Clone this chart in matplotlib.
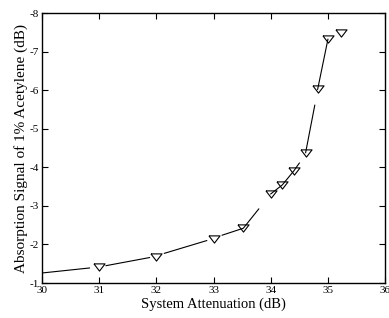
import matplotlib
matplotlib.use("Agg")
import matplotlib.pyplot as plt
import numpy as np

# measured points
att = [31.0, 32.0, 33.0, 33.52, 34.0, 34.2, 34.4, 34.61, 34.82, 35.0, 35.23]
signal = [-1.41, -1.68, -2.15, -2.42, -3.31, -3.54, -3.90, -4.38, -6.02, -7.32, -7.48]

# connecting line (with its breaks)
nan = np.nan
line_x = [30.0, 30.83, nan, 31.12, 31.88, nan, 32.14, 32.88, nan, 33.15, 33.52, 33.79,
          nan, 34.0, 34.2, 34.4, 34.5, nan, 34.61, 34.77, nan, 34.82, 35.0]
line_y = [-1.26, -1.39, nan, -1.45, -1.66, nan, -1.77, -2.10, nan, -2.24, -2.42, -2.92,
          nan, -3.31, -3.54, -3.90, -4.11, nan, -4.38, -5.61, nan, -6.02, -7.32]

xticks = [30, 31, 32, 33, 34, 35, 36]
yticks = [-1, -2, -3, -4, -5, -6, -7, -8]

plt.rcParams['font.family'] = ['Liberation Serif', 'DejaVu Serif']

fig = plt.figure(figsize=(3.89, 3.18), dpi=100)
ax = fig.add_axes([0.108, 0.110, 0.882, 0.849])

ax.plot(line_x, line_y, color='black', lw=0.8)
tri = [(-1, 0.65), (1, 0.65), (0, -0.65), (-1, 0.65)]
ax.plot(att, signal, linestyle='none', marker=tri, ms=8, mfc='none', mec='black', mew=0.8)

ax.set_xlim(30, 36)
ax.set_ylim(-1, -8)
ax.set_xticks(xticks)
ax.set_yticks(yticks)
ax.set_xticklabels([str(t) for t in xticks])
ax.set_yticklabels([str(t) for t in yticks])
ax.tick_params(direction='in', length=4, width=0.8, top=True, right=True,
               labelsize=8, pad=2)
for s in ax.spines.values():
    s.set_linewidth(1.0)

ax.set_xlabel('System Attenuation (dB)', fontsize=10.5, labelpad=2)
ax.set_ylabel('Absorption Signal of 1% Acetylene (dB)', fontsize=11, labelpad=1)

fig.savefig('out.png', dpi=100)
